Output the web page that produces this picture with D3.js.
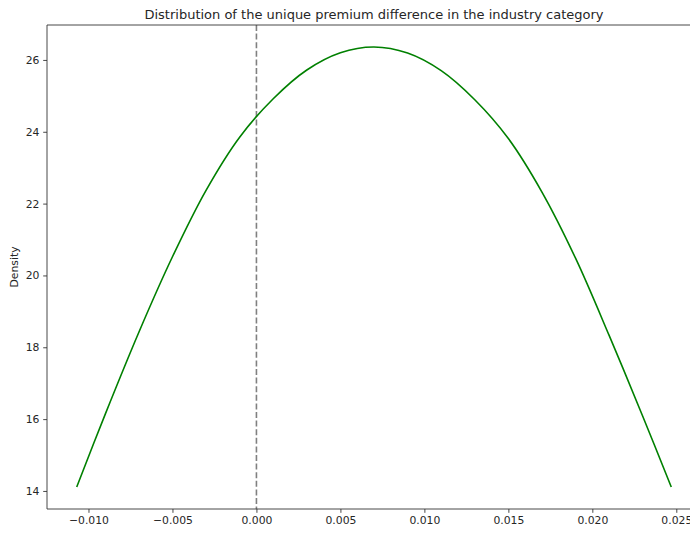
<!DOCTYPE html>
<html>
<head>
<meta charset="utf-8">
<script src="https://cdn.jsdelivr.net/npm/d3@7"></script>
<style>
  html, body { margin: 0; padding: 0; background: #fff; }
  svg { display: block; font-family: "DejaVu Sans", sans-serif; }
</style>
</head>
<body>
<svg id="chart" width="690" height="536"></svg>
<script>
// Kernel density estimate of the unique premium difference (industry category)
const diffValues = [-0.0107, -0.009, -0.007, -0.005, -0.003, -0.001, 0.001, 0.003, 0.005,
  0.007, 0.009, 0.011, 0.013, 0.015, 0.017, 0.019, 0.021, 0.023, 0.0247];
const densityValues = [14.11, 16.14, 18.42, 20.52, 22.37, 23.85, 24.92, 25.72, 26.20,
  26.36, 26.19, 25.70, 24.89, 23.81, 22.32, 20.48, 18.33, 16.08, 14.11];
const xTicks = [-0.010, -0.005, 0.000, 0.005, 0.010, 0.015, 0.020, 0.025];
const yTicks = [14, 16, 18, 20, 22, 24, 26];
const refLine = 0;
const titleText = "Distribution of the unique premium difference in the industry category";
const yLabelText = "Density";

const svg = d3.select("#chart");
const plot = { left: 47, top: 25, right: 701, bottom: 509 };

// 5% margins around the data, as in the default autoscaling
const xExt = d3.extent(diffValues), yExt = d3.extent(densityValues);
const xPad = (xExt[1] - xExt[0]) * 0.05, yPad = (yExt[1] - yExt[0]) * 0.05;

const x = d3.scaleLinear().domain([xExt[0] - xPad, xExt[1] + xPad]).range([plot.left, plot.right]);
const y = d3.scaleLinear().domain([yExt[0] - yPad, yExt[1] + yPad]).range([plot.bottom, plot.top]);

const textColor = "#262626";
const tickFont = "10.8px";
const fmtX = v => (v < 0 ? "\u2212" : "") + Math.abs(v).toFixed(3);

// reference line at zero difference
svg.append("line")
  .attr("x1", x(refLine)).attr("x2", x(refLine))
  .attr("y1", plot.top).attr("y2", plot.bottom)
  .attr("stroke", "#808080").attr("stroke-width", 1.6)
  .attr("stroke-dasharray", "6,2.6");

// density curve
const pts = diffValues.map((d, i) => [d, densityValues[i]]);
svg.append("path")
  .datum(pts)
  .attr("fill", "none")
  .attr("stroke", "#008000")
  .attr("stroke-width", 1.6)
  .attr("d", d3.line().x(d => x(d[0])).y(d => y(d[1])).curve(d3.curveCatmullRom.alpha(0.5)));

// axes
const xAxis = svg.append("g")
  .attr("transform", `translate(0,${plot.bottom})`)
  .call(d3.axisBottom(x).tickValues(xTicks).tickFormat(fmtX).tickSize(3.8).tickPadding(3.8));
const yAxis = svg.append("g")
  .attr("transform", `translate(${plot.left},0)`)
  .call(d3.axisLeft(y).tickValues(yTicks).tickFormat(d3.format("d")).tickSize(3.8).tickPadding(3.8));

[xAxis, yAxis].forEach(g => {
  g.select(".domain").remove();
  g.selectAll(".tick line").attr("stroke", "#333").attr("stroke-width", 0.9);
  g.selectAll(".tick text").attr("fill", textColor)
    .style("font-family", "DejaVu Sans, sans-serif").style("font-size", tickFont);
});

// spines
const spine = (x1, y1, x2, y2) => svg.append("line")
  .attr("x1", x1).attr("y1", y1).attr("x2", x2).attr("y2", y2)
  .attr("stroke", "#333").attr("stroke-width", 0.9);
spine(plot.left, plot.top, plot.left, plot.bottom);
spine(plot.left, plot.bottom, plot.right, plot.bottom);
spine(plot.left, plot.top, plot.right, plot.top);
spine(plot.right, plot.top, plot.right, plot.bottom);

// title
svg.append("text")
  .attr("x", (plot.left + plot.right) / 2).attr("y", plot.top - 6)
  .attr("text-anchor", "middle")
  .attr("fill", textColor)
  .style("font-size", "13px")
  .text(titleText);

// y label
svg.append("text")
  .attr("transform", `translate(18,${(plot.top + plot.bottom) / 2}) rotate(-90)`)
  .attr("text-anchor", "middle")
  .attr("fill", textColor)
  .style("font-size", tickFont)
  .text(yLabelText);
</script>
</body>
</html>
